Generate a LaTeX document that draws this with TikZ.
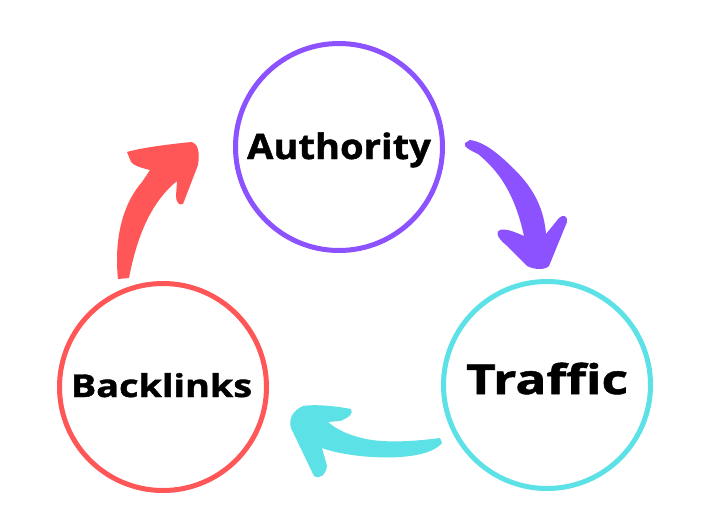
\documentclass[tikz,border=0pt]{standalone}
\usepackage{graphicx}
\usepackage{fontspec}
\setmainfont{Open Sans}[BoldFeatures={FakeBold=1.2}]
\definecolor{cpurple}{HTML}{8C52FF}
\definecolor{ccyan}{HTML}{5CE1E6}
\definecolor{cred}{HTML}{FF5757}
\begin{document}
\begin{tikzpicture}[x=1pt,y=-1pt,
  ring/.style={circle, draw, line width=5pt, minimum size=207pt, inner sep=0pt},
  lbl/.style={anchor=base, inner sep=0pt}]
\useasboundingbox (0,0) rectangle (706,530);
\fill[white] (0,0) rectangle (706,530);
\node[ring, draw=cpurple] (auth) at (339,147) {};
\node[ring, draw=ccyan] (traf) at (547,385) {};
\node[ring, draw=cred] (back) at (163,387) {};
\node[lbl] (authT) at (339,159) {\scalebox{1.09}[1]{\bfseries\fontsize{35}{38}\selectfont Authority}};
\node[lbl] (trafT) at (547,394) {\scalebox{1.25}[1]{\bfseries\fontsize{41}{44}\selectfont Traffic}};
\node[lbl] (backT) at (161.5,397) {\scalebox{1.2}[1]{\bfseries\fontsize{31.5}{34}\selectfont Backlinks}};
% red arrow
\fill[cred] (118,279) .. controls (114,240) and (122,205) .. (142,182)
  -- (150,170) .. controls (142,168) and (134,166) .. (131,162)
  -- (127,152) .. controls (140,148) and (170,144) .. (192,142)
  .. controls (198,144) and (200,152) .. (198,165)
  -- (183,204) .. controls (179,206) and (176,202) .. (176,196)
  -- (177,181) .. controls (160,195) and (140,220) .. (129,278) -- cycle;
% purple arrow
\fill[cpurple] (465,143) .. controls (463,147) and (470,150) .. (478,154)
  .. controls (500,172) and (515,195) .. (524,236)
  .. controls (515,232) and (505,228) .. (500,230)
  .. controls (494,233) and (500,240) .. (506,245)
  -- (527,266) .. controls (535,270) and (545,270) .. (549,266)
  -- (567,222) .. controls (568,216) and (563,214) .. (559,218)
  -- (546,234) .. controls (544,210) and (535,190) .. (515,170)
  .. controls (500,155) and (485,142) .. (470,140) -- cycle;
% cyan arrow
\fill[ccyan] (440,438) .. controls (410,442) and (380,443) .. (362,438)
  .. controls (345,434) and (335,428) .. (328,422)
  -- (340,421) .. controls (348,418) and (354,414) .. (351,409)
  .. controls (335,406) and (315,404) .. (303,406)
  .. controls (294,410) and (288,418) .. (291,428)
  -- (314,476) .. controls (320,480) and (326,474) .. (327,466)
  -- (322,448) .. controls (340,455) and (380,460) .. (410,456)
  .. controls (425,454) and (436,450) .. (442,443) -- cycle;
\end{tikzpicture}
\end{document}
